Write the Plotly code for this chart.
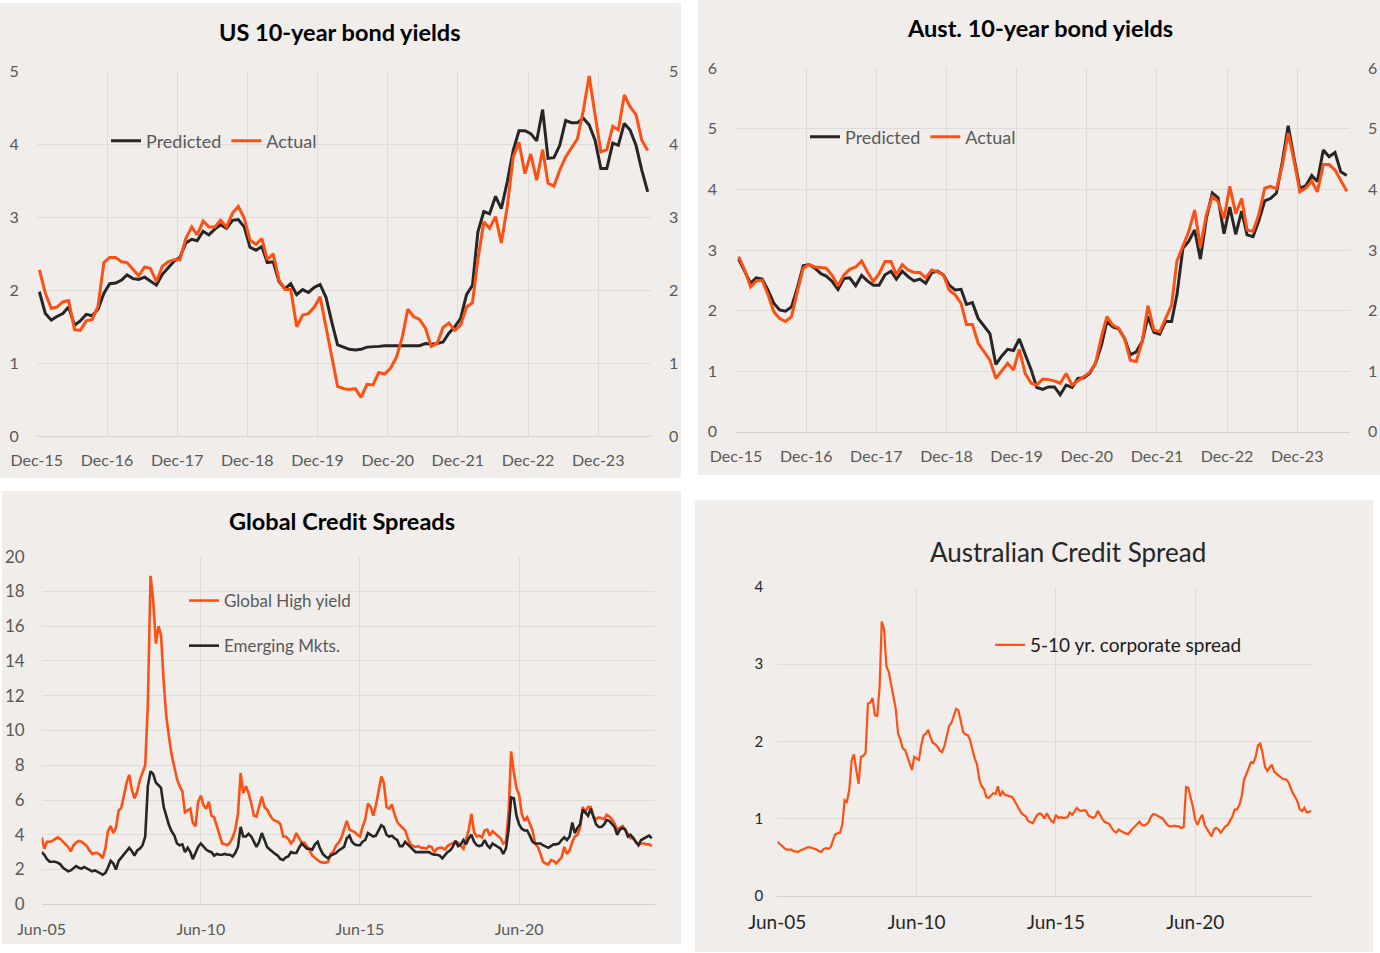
import pandas as pd
import plotly.graph_objects as go

# ---------------- data ----------------
us_predicted = [1.98, 1.68, 1.59, 1.64, 1.68, 1.77, 1.52, 1.58, 1.67, 1.65, 1.74, 1.96,
                2.09, 2.10, 2.14, 2.21, 2.16, 2.15, 2.18, 2.13, 2.07, 2.22, 2.31, 2.40,
                2.45, 2.65, 2.70, 2.68, 2.81, 2.76, 2.84, 2.90, 2.85, 2.96, 2.97, 2.87,
                2.59, 2.55, 2.60, 2.38, 2.39, 2.12, 2.02, 2.09, 1.94, 2.01, 1.97, 2.04,
                2.08, 1.90, 1.55, 1.25, 1.22, 1.19, 1.18, 1.19, 1.22, 1.22, 1.23, 1.24,
                1.24, 1.24, 1.24, 1.25, 1.25, 1.24, 1.27, 1.26, 1.27, 1.29, 1.41, 1.50,
                1.61, 1.94, 2.07, 2.80, 3.08, 3.05, 3.29, 3.12, 3.49, 3.92, 4.19, 4.19,
                4.15, 4.05, 4.48, 3.81, 3.82, 3.99, 4.33, 4.30, 4.30, 4.36, 4.27, 4.06,
                3.67, 3.67, 4.02, 3.99, 4.29, 4.20, 3.99, 3.65, 3.35]
us_actual = [2.28, 1.96, 1.75, 1.77, 1.84, 1.86, 1.46, 1.45, 1.58, 1.60, 1.78, 2.38,
             2.45, 2.45, 2.39, 2.38, 2.29, 2.20, 2.32, 2.30, 2.12, 2.33, 2.39, 2.42,
             2.42, 2.71, 2.87, 2.76, 2.95, 2.87, 2.87, 2.96, 2.87, 3.06, 3.15, 2.99,
             2.69, 2.63, 2.71, 2.42, 2.50, 2.14, 2.01, 2.01, 1.50, 1.66, 1.68, 1.77,
             1.91, 1.50, 1.04, 0.68, 0.65, 0.64, 0.65, 0.53, 0.71, 0.70, 0.87, 0.85,
             0.93, 1.08, 1.36, 1.74, 1.64, 1.60, 1.48, 1.23, 1.27, 1.49, 1.55, 1.45,
             1.52, 1.77, 1.83, 2.42, 2.94, 2.85, 3.01, 2.65, 3.15, 3.83, 4.03, 3.60,
             3.87, 3.51, 3.93, 3.47, 3.43, 3.65, 3.83, 3.96, 4.08, 4.47, 4.94, 4.41,
             3.90, 3.93, 4.25, 4.20, 4.68, 4.52, 4.41, 4.06, 3.92]

aus_predicted = [2.85, 2.64, 2.45, 2.54, 2.52, 2.34, 2.12, 2.01, 1.99, 2.06, 2.37, 2.74,
                 2.76, 2.70, 2.61, 2.57, 2.48, 2.35, 2.53, 2.54, 2.41, 2.58, 2.49, 2.42,
                 2.42, 2.59, 2.65, 2.52, 2.65, 2.56, 2.49, 2.52, 2.45, 2.63, 2.65, 2.59,
                 2.42, 2.34, 2.35, 2.10, 2.13, 1.87, 1.75, 1.62, 1.11, 1.25, 1.36, 1.34,
                 1.53, 1.27, 1.02, 0.73, 0.70, 0.74, 0.74, 0.61, 0.77, 0.73, 0.88, 0.89,
                 0.96, 1.13, 1.43, 1.82, 1.73, 1.70, 1.54, 1.27, 1.32, 1.49, 1.90, 1.64,
                 1.61, 1.82, 1.82, 2.26, 3.03, 3.14, 3.33, 2.85, 3.52, 3.94, 3.86, 3.27,
                 3.71, 3.26, 3.64, 3.25, 3.22, 3.48, 3.81, 3.85, 3.94, 4.46, 5.05, 4.51,
                 4.02, 4.06, 4.23, 4.13, 4.65, 4.54, 4.61, 4.29, 4.23]
aus_actual = [2.89, 2.67, 2.39, 2.49, 2.50, 2.27, 1.98, 1.87, 1.82, 1.90, 2.31, 2.70,
              2.76, 2.72, 2.71, 2.70, 2.58, 2.41, 2.59, 2.68, 2.72, 2.82, 2.64, 2.48,
              2.61, 2.81, 2.81, 2.59, 2.76, 2.67, 2.63, 2.63, 2.54, 2.67, 2.64, 2.59,
              2.34, 2.26, 2.12, 1.77, 1.77, 1.46, 1.32, 1.18, 0.88, 1.00, 1.13, 1.02,
              1.36, 0.96, 0.80, 0.77, 0.87, 0.86, 0.84, 0.80, 0.96, 0.77, 0.84, 0.91,
              0.98, 1.13, 1.57, 1.90, 1.76, 1.71, 1.54, 1.18, 1.16, 1.49, 2.08, 1.68,
              1.65, 1.87, 2.09, 2.82, 3.05, 3.30, 3.66, 3.05, 3.58, 3.88, 3.80, 3.52,
              4.05, 3.60, 3.85, 3.33, 3.31, 3.58, 4.02, 4.05, 4.01, 4.40, 4.93, 4.47,
              3.96, 4.02, 4.14, 3.96, 4.41, 4.41, 4.32, 4.14, 3.97]

global_high_yield = [3.85, 3.2, 3.6, 3.6, 3.65, 3.75, 3.85, 3.75, 3.6, 3.45, 3.3, 3.05,
                     3.4, 3.55, 3.65, 3.6, 3.5, 3.35, 3.1, 2.9, 2.95, 2.95, 2.85, 2.65,
                     3.2, 4.2, 4.5, 4.1, 4.4, 5.4, 5.55, 6.3, 7.0, 7.45, 6.6, 6.1,
                     6.5, 7.15, 7.55, 8.0, 11.5, 18.9, 17.5, 15.0, 16.0, 15.5, 12.8, 10.8,
                     9.6, 8.6, 7.9, 7.2, 6.8, 6.5, 5.3, 5.4, 5.5, 4.7, 4.5, 5.9,
                     6.25, 5.7, 5.5, 5.9, 5.1, 5.0, 4.5, 4.0, 3.5, 3.45, 3.4, 3.55,
                     3.85, 4.3, 5.2, 7.55, 6.4, 6.8, 6.4, 5.8, 5.1, 5.05, 5.6, 6.2,
                     5.6, 5.45, 5.15, 4.9, 4.8, 4.75, 4.6, 3.9, 3.9, 3.75, 3.5, 3.7,
                     4.1, 3.8, 3.55, 3.55, 3.35, 3.1, 2.8, 2.65, 2.55, 2.45, 2.4, 2.4,
                     2.45, 2.9, 3.05, 3.4, 3.55, 3.85, 4.3, 4.8, 4.3, 4.25, 4.15, 4.0,
                     3.9, 4.45, 4.9, 5.8, 5.6, 5.1, 5.7, 6.5, 7.35, 7.0, 5.6, 5.5,
                     5.75, 5.2, 4.75, 4.55, 4.4, 4.25, 3.8, 3.45, 3.35, 3.3, 3.35, 3.25,
                     3.25, 3.2, 3.35, 3.3, 3.0, 3.2, 3.25, 3.25, 3.15, 3.35, 3.45, 3.5,
                     3.6, 3.55, 3.35, 3.2, 3.75, 4.3, 5.2, 4.15, 3.9, 3.95, 3.85, 4.25,
                     4.3, 3.95, 4.2, 4.05, 3.9, 3.8, 3.5, 3.6, 5.3, 8.8, 7.6, 6.7,
                     6.3, 5.2, 4.8, 5.0, 4.65, 4.25, 3.5, 3.3, 2.9, 2.45, 2.35, 2.3,
                     2.55, 2.5, 2.35, 2.5, 2.7, 3.3, 2.9, 3.1, 3.6, 3.9, 4.0, 4.4,
                     5.6, 5.3, 5.6, 5.6, 5.05, 4.9, 5.0, 4.95, 4.9, 5.15, 5.05, 4.9,
                     4.65, 4.3, 4.4, 4.5, 4.3, 4.0, 3.8, 3.85, 3.55, 3.45, 3.5, 3.5,
                     3.45, 3.45, 3.35]
emerging_mkts = [3.0, 2.85, 2.6, 2.45, 2.45, 2.45, 2.4, 2.3, 2.1, 2.0, 1.9, 1.95,
                 2.1, 2.2, 2.1, 2.05, 2.15, 2.05, 1.95, 1.9, 1.95, 1.9, 1.8, 1.7,
                 1.8, 2.1, 2.5, 2.35, 2.0, 2.5, 2.7, 2.9, 3.05, 3.25, 3.05, 2.8,
                 3.1, 3.2, 3.4, 3.9, 6.8, 7.65, 7.5, 7.0, 6.85, 6.7, 5.6, 5.0,
                 4.55, 4.2, 3.95, 3.5, 3.4, 3.45, 3.0, 3.25, 3.0, 2.6, 2.95, 3.3,
                 3.5, 3.3, 3.15, 3.05, 3.0, 2.8, 2.9, 2.85, 2.85, 2.9, 2.85, 2.85,
                 2.75, 2.95, 3.3, 4.45, 3.9, 3.9, 4.05, 3.9, 3.6, 3.3, 3.6, 4.1,
                 3.7, 3.3, 3.15, 3.0, 2.9, 2.8, 2.6, 2.55, 2.7, 2.75, 3.0, 2.95,
                 2.95, 3.25, 3.5, 3.35, 3.2, 3.2, 3.15, 3.45, 3.6, 3.2, 2.9, 2.75,
                 2.65, 2.8, 2.9, 2.95, 3.1, 3.2, 3.3, 3.8, 3.95, 3.6, 3.45, 3.4,
                 3.4, 3.6, 3.7, 4.1, 4.0, 3.9, 3.95, 4.3, 4.55, 4.45, 4.0, 3.9,
                 3.95, 3.8, 3.7, 3.35, 3.35, 3.6, 3.45, 3.3, 3.1, 3.0, 3.0, 3.0,
                 3.0, 3.0, 3.0, 2.9, 2.85, 2.85, 2.8, 2.65, 2.85, 3.0, 3.1, 3.3,
                 3.65, 3.35, 3.45, 3.7, 3.45, 3.8, 4.0, 3.6, 3.4, 3.35, 3.4, 3.7,
                 3.4, 3.25, 3.5, 3.4, 3.3, 3.2, 2.9, 3.2, 4.3, 6.15, 6.1, 5.1,
                 4.6, 4.35, 4.25, 4.25, 3.95, 3.6, 3.5, 3.5, 3.5, 3.4, 3.3, 3.25,
                 3.35, 3.45, 3.45, 3.5, 3.7, 3.85, 3.7, 3.9, 4.7, 4.1, 4.4, 4.6,
                 5.45, 5.3, 5.1, 5.5, 5.1, 4.6, 4.45, 4.45, 4.6, 4.85, 4.8, 4.6,
                 4.45, 4.0, 4.3, 4.4, 4.3, 3.9, 4.0, 3.8, 3.6, 3.4, 3.7, 3.8,
                 3.9, 3.95, 3.8]

aus_corporate_spread = [0.70, 0.68, 0.65, 0.62, 0.60, 0.60, 0.60, 0.58, 0.57, 0.57, 0.59, 0.60,
                        0.62, 0.63, 0.63, 0.62, 0.61, 0.60, 0.58, 0.57, 0.61, 0.62, 0.61, 0.63,
                        0.72, 0.80, 0.81, 0.82, 0.92, 1.24, 1.22, 1.38, 1.76, 1.83, 1.63, 1.45,
                        1.80, 1.81, 1.85, 2.49, 2.50, 2.56, 2.34, 2.33, 2.70, 3.55, 3.45, 2.97,
                        2.90, 2.72, 2.58, 2.42, 2.10, 2.02, 1.91, 1.89, 1.80, 1.70, 1.63, 1.80,
                        1.78, 1.76, 1.95, 2.08, 2.10, 2.15, 2.05, 1.98, 1.96, 1.93, 1.88, 1.86,
                        1.94, 2.05, 2.20, 2.24, 2.32, 2.42, 2.40, 2.25, 2.12, 2.09, 2.08, 2.02,
                        1.90, 1.78, 1.70, 1.50, 1.42, 1.38, 1.28, 1.27, 1.30, 1.33, 1.32, 1.42,
                        1.29, 1.35, 1.31, 1.30, 1.28, 1.28, 1.24, 1.18, 1.13, 1.08, 1.05, 1.03,
                        0.97, 0.95, 0.94, 1.00, 1.05, 1.07, 1.05, 1.00, 1.07, 1.02, 0.97, 0.95,
                        1.05, 1.01, 1.02, 1.01, 1.01, 1.02, 1.08, 1.05, 1.10, 1.14, 1.11, 1.10,
                        1.11, 1.10, 1.04, 1.02, 1.01, 1.03, 1.10, 1.05, 0.99, 0.96, 0.94, 0.93,
                        0.88, 0.84, 0.82, 0.86, 0.84, 0.82, 0.81, 0.80, 0.84, 0.87, 0.90, 0.93,
                        0.96, 0.92, 0.91, 0.93, 0.96, 1.03, 1.06, 1.05, 1.03, 1.02, 1.00, 0.96,
                        0.92, 0.90, 0.90, 0.91, 0.90, 0.90, 0.88, 0.89, 1.41, 1.40, 1.28, 1.15,
                        0.98, 0.92, 1.00, 1.05, 0.92, 0.86, 0.82, 0.77, 0.86, 0.88, 0.86, 0.82,
                        0.86, 0.90, 0.92, 0.97, 1.03, 1.12, 1.12, 1.18, 1.30, 1.50, 1.57, 1.65,
                        1.73, 1.72, 1.80, 1.95, 1.97, 1.84, 1.67, 1.62, 1.66, 1.70, 1.61, 1.58,
                        1.56, 1.53, 1.51, 1.51, 1.48, 1.39, 1.33, 1.28, 1.22, 1.12, 1.10, 1.14,
                        1.08, 1.09, 1.10]

bond_tick_dates = ["2015-12-01", "2016-12-01", "2017-12-01", "2018-12-01", "2019-12-01",
                   "2020-12-01", "2021-12-01", "2022-12-01", "2023-12-01"]
bond_tick_text = ["Dec-15", "Dec-16", "Dec-17", "Dec-18", "Dec-19", "Dec-20", "Dec-21", "Dec-22", "Dec-23"]
spread_tick_dates = ["2005-06-01", "2010-06-01", "2015-06-01", "2020-06-01"]
spread_tick_text = ["Jun-05", "Jun-10", "Jun-15", "Jun-20"]

bond_dates = pd.date_range("2015-12-01", periods=len(us_actual), freq="MS") + pd.Timedelta(days=14)
spread_dates = pd.date_range("2005-06-01", periods=len(global_high_yield), freq="MS")

# ---------------- style ----------------
W, H = 1380, 953
BG = "#F0EDEA"
GRID = "#DEDCDA"
AXLINE = "#D3D1CF"
ORANGE = "#FF5014"
BLACK = "#262626"
TICK = "#595959"
FONT = "Lato"


def px(x):
    return x / W


def py(y):
    return 1 - y / H


fig = go.Figure()

# traces (Actual series sit on the secondary right-hand axes, as in the original)
fig.add_trace(go.Scatter(x=bond_dates, y=us_predicted, name="Predicted", mode="lines",
                         line=dict(color=BLACK, width=3), xaxis="x", yaxis="y", legend="legend"))
fig.add_trace(go.Scatter(x=bond_dates, y=us_actual, name="Actual", mode="lines",
                         line=dict(color=ORANGE, width=3), xaxis="x", yaxis="y5", legend="legend"))
fig.add_trace(go.Scatter(x=bond_dates, y=aus_predicted, name="Predicted", mode="lines",
                         line=dict(color=BLACK, width=3), xaxis="x2", yaxis="y2", legend="legend2"))
fig.add_trace(go.Scatter(x=bond_dates, y=aus_actual, name="Actual", mode="lines",
                         line=dict(color=ORANGE, width=3), xaxis="x2", yaxis="y6", legend="legend2"))
fig.add_trace(go.Scatter(x=spread_dates, y=global_high_yield, name="Global High yield", mode="lines",
                         line=dict(color=ORANGE, width=2.6), xaxis="x3", yaxis="y3",
                         legend="legend3", legendgroup="hy"))
fig.add_trace(go.Scatter(x=spread_dates, y=emerging_mkts, name="Emerging Mkts.", mode="lines",
                         line=dict(color=BLACK, width=2.6), xaxis="x3", yaxis="y3",
                         legend="legend3", legendgroup="em"))
fig.add_trace(go.Scatter(x=spread_dates, y=aus_corporate_spread, name="5-10 yr. corporate spread",
                         mode="lines", line=dict(color=ORANGE, width=2.2), xaxis="x4", yaxis="y4",
                         legend="legend4"))


def xax(domain, anchor, rng, tickvals, ticktext, size=16, color=TICK, standoff=10):
    return dict(domain=domain, anchor=anchor, type="date", range=rng, tickmode="array",
                tickvals=tickvals, ticktext=ticktext, showgrid=True, gridcolor=GRID, gridwidth=1,
                showline=True, linecolor=AXLINE, linewidth=1, ticks="", zeroline=False,
                tickfont=dict(family=FONT, size=size, color=color), ticklabelstandoff=standoff,
                automargin=False, fixedrange=True)


def yax(domain, anchor, rng, dtick, size=16, color=TICK, standoff=14, side="left", overlay=None):
    d = dict(domain=domain, anchor=anchor, range=rng, dtick=dtick, tick0=0, showgrid=True,
             gridcolor=GRID, gridwidth=1, showline=False, ticks="", zeroline=False, side=side,
             tickfont=dict(family=FONT, size=size, color=color), ticklabelstandoff=standoff,
             automargin=False, fixedrange=True)
    if overlay:
        d.update(overlaying=overlay, showgrid=False)
    return d


dom1x = [px(36.7), px(651)]
dom1y = [py(436), py(71.7)]
dom2x = [px(736), px(1350)]
dom2y = [py(431.7), py(68.3)]
dom3x = [px(41.7), px(655)]
dom3y = [py(904.3), py(556.7)]
dom4x = [px(777.3), px(1311.7)]
dom4y = [py(896), py(586.7)]

layout = dict(
    width=W, height=H, margin=dict(l=0, r=0, t=0, b=0, autoexpand=False),
    paper_bgcolor="white", plot_bgcolor="rgba(0,0,0,0)",
    showlegend=True,
    xaxis=xax(dom1x, "y", ["2015-12-01", "2024-09-01"], bond_tick_dates, bond_tick_text),
    yaxis=yax(dom1y, "x", [0, 5], 1, standoff=17),
    yaxis5=yax(dom1y, "x", [0, 5], 1, side="right", overlay="y", standoff=17),
    xaxis2=xax(dom2x, "y2", ["2015-12-01", "2024-09-01"], bond_tick_dates, bond_tick_text),
    yaxis2=yax(dom2y, "x2", [0, 6], 1, standoff=18),
    yaxis6=yax(dom2y, "x2", [0, 6], 1, side="right", overlay="y2", standoff=17),
    xaxis3=xax(dom3x, "y3", ["2005-06-01", "2024-09-07"], spread_tick_dates, spread_tick_text,
               size=16),
    yaxis3=yax(dom3y, "x3", [0, 20], 2, size=17, standoff=16),
    xaxis4=xax(dom4x, "y4", ["2005-06-01", "2024-08-05"], spread_tick_dates, spread_tick_text,
               size=19, color="#262626", standoff=9),
    yaxis4=yax(dom4y, "x4", [0, 4], 1, size=15, color="#262626", standoff=13),
    legend=dict(x=px(106), y=py(141), xanchor="left", yanchor="middle", orientation="h",
                bgcolor="rgba(0,0,0,0)", font=dict(family=FONT, size=18, color=TICK),
                itemclick=False, itemdoubleclick=False),
    legend2=dict(x=px(805), y=py(137), xanchor="left", yanchor="middle", orientation="h",
                 bgcolor="rgba(0,0,0,0)", font=dict(family=FONT, size=18, color=TICK),
                 itemclick=False, itemdoubleclick=False),
    legend3=dict(x=px(184), y=py(583), xanchor="left", yanchor="top", orientation="v",
                 bgcolor="rgba(0,0,0,0)", font=dict(family=FONT, size=17, color=TICK),
                 tracegroupgap=20, itemclick=False, itemdoubleclick=False),
    legend4=dict(x=px(990), y=py(645), xanchor="left", yanchor="middle", orientation="v",
                 bgcolor="rgba(0,0,0,0)", font=dict(family=FONT, size=19, color="#1a1a1a"),
                 itemclick=False, itemdoubleclick=False),
    shapes=[
        dict(type="rect", xref="paper", yref="paper", x0=px(0), x1=px(681), y0=py(478), y1=py(3),
             fillcolor=BG, line=dict(width=0), layer="below"),
        dict(type="rect", xref="paper", yref="paper", x0=px(698), x1=px(1380), y0=py(475), y1=py(0),
             fillcolor=BG, line=dict(width=0), layer="below"),
        dict(type="rect", xref="paper", yref="paper", x0=px(2), x1=px(681), y0=py(944), y1=py(491),
             fillcolor=BG, line=dict(width=0), layer="below"),
        dict(type="rect", xref="paper", yref="paper", x0=px(695), x1=px(1373), y0=py(952), y1=py(500),
             fillcolor=BG, line=dict(width=0), layer="below"),
    ],
    annotations=[
        dict(text="<b>US 10-year bond yields</b>", x=px(340), y=py(32), xref="paper", yref="paper",
             xanchor="center", yanchor="middle", showarrow=False,
             font=dict(family=FONT, size=23.5, color="#000000")),
        dict(text="<b>Aust. 10-year bond yields</b>", x=px(1040), y=py(28), xref="paper", yref="paper",
             xanchor="center", yanchor="middle", showarrow=False,
             font=dict(family=FONT, size=23.5, color="#000000")),
        dict(text="<b>Global Credit Spreads</b>", x=px(342), y=py(521), xref="paper", yref="paper",
             xanchor="center", yanchor="middle", showarrow=False,
             font=dict(family=FONT, size=23.5, color="#000000")),
        dict(text="Australian Credit Spread", x=px(1068), y=py(552), xref="paper", yref="paper",
             xanchor="center", yanchor="middle", showarrow=False,
             font=dict(family=FONT, size=26, color="#262626")),
    ],
)
fig.update_layout(**layout)

fig.write_html("out.html", config={"displayModeBar": False},
               post_script="document.body.style.margin='0px';")
